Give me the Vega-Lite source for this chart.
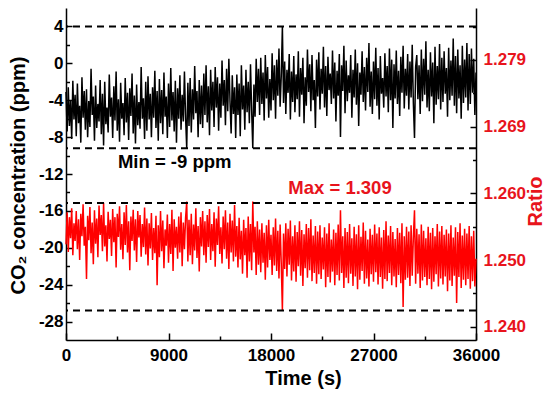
{
"$schema": "https://vega.github.io/schema/vega-lite/v6.json",
"autosize": {"type": "none"},
"width": 410, "height": 332,
"padding": {"left": 66, "top": 8, "right": 74, "bottom": 58},
"background": "white",
"config": {
  "view": {"stroke": null},
  "axis": {"labelFont": "Liberation Sans", "labelFontWeight": "bold", "labelFontSize": 17, "labelColor": "black",
           "titleFont": "Liberation Sans", "titleFontWeight": "bold", "titleFontSize": 20, "titleColor": "black",
           "domainColor": "black", "domainWidth": 1.5, "tickColor": "black", "tickWidth": 1.5, "grid": false,
           "labelFlush": false, "labelOverlap": false}
},
"data": {"values": [
{"t":0,"c":-3.1,"r":1.2521},{"t":100,"c":-7.4,"r":1.2568},{"t":200,"c":-2.6,"r":1.2510},{"t":300,"c":-6.8,"r":1.2561},{"t":400,"c":-4.0,"r":1.2530},{"t":500,"c":-8.2,"r":1.2574},{"t":600,"c":-1.9,"r":1.2505},{"t":700,"c":-6.1,"r":1.2552},{"t":800,"c":-3.4,"r":1.2526},{"t":900,"c":-7.9,"r":1.2570},
{"t":1000,"c":-2.2,"r":1.2514},{"t":1100,"c":-6.5,"r":1.2558},{"t":1200,"c":-4.6,"r":1.2498},{"t":1300,"c":-8.6,"r":1.2566},{"t":1400,"c":-1.5,"r":1.2533},{"t":1500,"c":-5.9,"r":1.2580},{"t":1600,"c":-3.0,"r":1.2519},{"t":1700,"c":-7.2,"r":1.2547},{"t":1800,"c":-2.8,"r":1.2470},{"t":1900,"c":-8.0,"r":1.2563},
{"t":2000,"c":-4.1,"r":1.2527},{"t":2100,"c":-6.9,"r":1.2576},{"t":2200,"c":-0.6,"r":1.2508},{"t":2300,"c":-5.6,"r":1.2553},{"t":2400,"c":-3.6,"r":1.2492},{"t":2500,"c":-8.4,"r":1.2571},{"t":2600,"c":-2.4,"r":1.2522},{"t":2700,"c":-7.0,"r":1.2559},{"t":2800,"c":-4.4,"r":1.2502},{"t":2900,"c":-6.3,"r":1.2578},
{"t":3000,"c":-1.8,"r":1.2535},{"t":3100,"c":-7.7,"r":1.2564},{"t":3200,"c":-3.3,"r":1.2511},{"t":3300,"c":-8.9,"r":1.2582},{"t":3400,"c":-2.0,"r":1.2518},{"t":3500,"c":-6.6,"r":1.2549},{"t":3600,"c":-4.8,"r":1.2496},{"t":3700,"c":-7.5,"r":1.2569},{"t":3800,"c":-1.2,"r":1.2529},{"t":3900,"c":-5.8,"r":1.2557},
{"t":4000,"c":-3.7,"r":1.2504},{"t":4100,"c":-8.1,"r":1.2573},{"t":4200,"c":-2.5,"r":1.2524},{"t":4300,"c":-6.2,"r":1.2561},{"t":4400,"c":-0.9,"r":1.2487},{"t":4500,"c":-7.3,"r":1.2566},{"t":4600,"c":-3.9,"r":1.2532},{"t":4700,"c":-8.5,"r":1.2577},{"t":4800,"c":-2.1,"r":1.2513},{"t":4900,"c":-6.0,"r":1.2551},
{"t":5000,"c":-4.3,"r":1.2499},{"t":5100,"c":-7.8,"r":1.2568},{"t":5200,"c":-1.6,"r":1.2520},{"t":5300,"c":-6.4,"r":1.2579},{"t":5400,"c":-3.2,"r":1.2509},{"t":5500,"c":-8.3,"r":1.2555},{"t":5600,"c":-2.7,"r":1.2483},{"t":5700,"c":-5.7,"r":1.2562},{"t":5800,"c":-1.1,"r":1.2526},{"t":5900,"c":-7.6,"r":1.2572},
{"t":6000,"c":-3.5,"r":1.2512},{"t":6100,"c":-8.7,"r":1.2558},{"t":6200,"c":-2.3,"r":1.2495},{"t":6300,"c":-6.7,"r":1.2570},{"t":6400,"c":-4.2,"r":1.2531},{"t":6500,"c":-7.1,"r":1.2564},{"t":6600,"c":-0.4,"r":1.2503},{"t":6700,"c":-6.0,"r":1.2551},{"t":6800,"c":-3.8,"r":1.2517},{"t":6900,"c":-8.2,"r":1.2575},
{"t":7000,"c":-2.0,"r":1.2506},{"t":7100,"c":-7.3,"r":1.2559},{"t":7200,"c":-1.4,"r":1.2490},{"t":7300,"c":-6.1,"r":1.2552},{"t":7400,"c":-3.3,"r":1.2515},{"t":7500,"c":-8.0,"r":1.2567},{"t":7600,"c":-2.6,"r":1.2498},{"t":7700,"c":-5.9,"r":1.2545},{"t":7800,"c":-0.8,"r":1.2508},{"t":7900,"c":-7.0,"r":1.2563},
{"t":8000,"c":-3.0,"r":1.2461},{"t":8100,"c":-8.4,"r":1.2549},{"t":8200,"c":-1.7,"r":1.2502},{"t":8300,"c":-6.5,"r":1.2570},{"t":8400,"c":-2.9,"r":1.2511},{"t":8500,"c":-7.7,"r":1.2556},{"t":8600,"c":-1.0,"r":1.2486},{"t":8700,"c":-5.8,"r":1.2543},{"t":8800,"c":-3.6,"r":1.2519},{"t":8900,"c":-8.1,"r":1.2565},
{"t":9000,"c":-2.2,"r":1.2494},{"t":9100,"c":-6.9,"r":1.2551},{"t":9200,"c":-0.5,"r":1.2507},{"t":9300,"c":-6.2,"r":1.2572},{"t":9400,"c":-3.1,"r":1.2482},{"t":9500,"c":-7.4,"r":1.2558},{"t":9600,"c":-1.9,"r":1.2516},{"t":9700,"c":-8.6,"r":1.2547},{"t":9800,"c":-2.7,"r":1.2500},{"t":9900,"c":-6.0,"r":1.2562},
{"t":10000,"c":-1.3,"r":1.2509},{"t":10100,"c":-7.2,"r":1.2568},{"t":10200,"c":-3.4,"r":1.2489},{"t":10300,"c":-6.3,"r":1.2553},{"t":10400,"c":-0.9,"r":1.2514},{"t":10500,"c":-5.9,"r":1.2560},{"t":10600,"c":-9.2,"r":1.2584},{"t":10700,"c":-2.1,"r":1.2496},{"t":10800,"c":-6.8,"r":1.2557},{"t":10900,"c":-1.6,"r":1.2505},
{"t":11000,"c":-7.5,"r":1.2566},{"t":11100,"c":-2.8,"r":1.2492},{"t":11200,"c":-6.1,"r":1.2550},{"t":11300,"c":-0.3,"r":1.2512},{"t":11400,"c":-5.4,"r":1.2574},{"t":11500,"c":-3.0,"r":1.2501},{"t":11600,"c":-8.0,"r":1.2548},{"t":11700,"c":-1.8,"r":1.2481},{"t":11800,"c":-6.6,"r":1.2561},{"t":11900,"c":-2.4,"r":1.2518},
{"t":12000,"c":-7.0,"r":1.2570},{"t":12100,"c":-1.1,"r":1.2505},{"t":12200,"c":-5.6,"r":1.2555},{"t":12300,"c":-0.2,"r":1.2494},{"t":12400,"c":-6.4,"r":1.2564},{"t":12500,"c":-2.5,"r":1.2517},{"t":12600,"c":-7.8,"r":1.2573},{"t":12700,"c":-0.7,"r":1.2498},{"t":12800,"c":-5.1,"r":1.2551},{"t":12900,"c":-2.0,"r":1.2511},
{"t":13000,"c":-6.9,"r":1.2568},{"t":13100,"c":-0.4,"r":1.2488},{"t":13200,"c":-4.8,"r":1.2559},{"t":13300,"c":-1.5,"r":1.2520},{"t":13400,"c":-7.3,"r":1.2577},{"t":13500,"c":-2.2,"r":1.2507},{"t":13600,"c":-5.9,"r":1.2546},{"t":13700,"c":0.3,"r":1.2493},{"t":13800,"c":-4.6,"r":1.2562},{"t":13900,"c":-1.8,"r":1.2514},
{"t":14000,"c":-6.7,"r":1.2571},{"t":14100,"c":-0.6,"r":1.2500},{"t":14200,"c":-5.2,"r":1.2553},{"t":14300,"c":0.5,"r":1.2485},{"t":14400,"c":-4.1,"r":1.2566},{"t":14500,"c":-7.6,"r":1.2509},{"t":14600,"c":-1.3,"r":1.2556},{"t":14700,"c":-5.5,"r":1.2496},{"t":14800,"c":-2.6,"r":1.2579},{"t":14900,"c":-8.1,"r":1.2503},
{"t":15000,"c":-1.2,"r":1.2548},{"t":15100,"c":-5.6,"r":1.2487},{"t":15200,"c":-2.2,"r":1.2560},{"t":15300,"c":-7.9,"r":1.2499},{"t":15400,"c":-0.2,"r":1.2541},{"t":15500,"c":-5.0,"r":1.2478},{"t":15600,"c":-2.4,"r":1.2557},{"t":15700,"c":-7.2,"r":1.2505},{"t":15800,"c":-0.7,"r":1.2545},{"t":15900,"c":-5.3,"r":1.2472},
{"t":16000,"c":-2.0,"r":1.2562},{"t":16100,"c":-6.5,"r":1.2496},{"t":16200,"c":-0.1,"r":1.2551},{"t":16300,"c":-5.1,"r":1.2483},{"t":16400,"c":-9.2,"r":1.2584},{"t":16500,"c":-2.3,"r":1.2509},{"t":16600,"c":-5.8,"r":1.2547},{"t":16700,"c":0.5,"r":1.2476},{"t":16800,"c":-4.2,"r":1.2555},{"t":16900,"c":-0.6,"r":1.2491},
{"t":17000,"c":-5.6,"r":1.2543},{"t":17100,"c":0.6,"r":1.2480},{"t":17200,"c":-4.4,"r":1.2552},{"t":17300,"c":-1.0,"r":1.2494},{"t":17400,"c":-6.2,"r":1.2538},{"t":17500,"c":0.9,"r":1.2469},{"t":17600,"c":-3.8,"r":1.2549},{"t":17700,"c":-0.4,"r":1.2487},{"t":17800,"c":-5.9,"r":1.2557},{"t":17900,"c":-1.7,"r":1.2498},
{"t":18000,"c":-5.1,"r":1.2535},{"t":18100,"c":1.1,"r":1.2476},{"t":18200,"c":-4.0,"r":1.2546},{"t":18300,"c":-0.2,"r":1.2490},{"t":18400,"c":-6.0,"r":1.2559},{"t":18500,"c":0.4,"r":1.2482},{"t":18600,"c":-3.5,"r":1.2541},{"t":18700,"c":1.6,"r":1.2471},{"t":18800,"c":-4.7,"r":1.2550},{"t":18900,"c":-1.4,"r":1.2493},
{"t":19000,"c":4.0,"r":1.2424},{"t":19100,"c":-4.3,"r":1.2537},{"t":19200,"c":0.2,"r":1.2485},{"t":19300,"c":-5.5,"r":1.2552},{"t":19400,"c":-0.7,"r":1.2474},{"t":19500,"c":-3.2,"r":1.2544},{"t":19600,"c":1.0,"r":1.2491},{"t":19700,"c":-6.1,"r":1.2556},{"t":19800,"c":-0.9,"r":1.2468},{"t":19900,"c":-4.2,"r":1.2533},
{"t":20000,"c":0.8,"r":1.2481},{"t":20100,"c":-5.3,"r":1.2549},{"t":20200,"c":-1.2,"r":1.2466},{"t":20300,"c":-3.9,"r":1.2539},{"t":20400,"c":1.3,"r":1.2489},{"t":20500,"c":-5.8,"r":1.2555},{"t":20600,"c":-0.5,"r":1.2475},{"t":20700,"c":-3.4,"r":1.2542},{"t":20800,"c":0.6,"r":1.2460},{"t":20900,"c":-6.5,"r":1.2536},
{"t":21000,"c":-1.5,"r":1.2486},{"t":21100,"c":-4.6,"r":1.2551},{"t":21200,"c":1.5,"r":1.2472},{"t":21300,"c":-3.1,"r":1.2545},{"t":21400,"c":-0.1,"r":1.2483},{"t":21500,"c":-5.2,"r":1.2558},{"t":21600,"c":0.9,"r":1.2467},{"t":21700,"c":-4.0,"r":1.2534},{"t":21800,"c":-1.8,"r":1.2479},{"t":21900,"c":-7.0,"r":1.2548},
{"t":22000,"c":0.4,"r":1.2463},{"t":22100,"c":-3.6,"r":1.2540},{"t":22200,"c":1.2,"r":1.2477},{"t":22300,"c":-5.0,"r":1.2549},{"t":22400,"c":-0.6,"r":1.2470},{"t":22500,"c":-3.3,"r":1.2531},{"t":22600,"c":1.8,"r":1.2484},{"t":22700,"c":-4.8,"r":1.2546},{"t":22800,"c":-0.3,"r":1.2458},{"t":22900,"c":-5.7,"r":1.2537},
{"t":23000,"c":0.7,"r":1.2473},{"t":23100,"c":-2.9,"r":1.2552},{"t":23200,"c":-1.1,"r":1.2465},{"t":23300,"c":-4.4,"r":1.2528},{"t":23400,"c":1.4,"r":1.2481},{"t":23500,"c":-3.8,"r":1.2543},{"t":23600,"c":0.1,"r":1.2461},{"t":23700,"c":-6.3,"r":1.2538},{"t":23800,"c":-0.8,"r":1.2476},{"t":23900,"c":-3.5,"r":1.2550},
{"t":24000,"c":1.0,"r":1.2468},{"t":24100,"c":-8.0,"r":1.2571},{"t":24200,"c":-0.2,"r":1.2479},{"t":24300,"c":-3.0,"r":1.2533},{"t":24400,"c":1.9,"r":1.2457},{"t":24500,"c":-5.4,"r":1.2545},{"t":24600,"c":0.3,"r":1.2472},{"t":24700,"c":-4.1,"r":1.2539},{"t":24800,"c":-1.3,"r":1.2464},{"t":24900,"c":-3.2,"r":1.2551},
{"t":25000,"c":0.9,"r":1.2478},{"t":25100,"c":-5.9,"r":1.2530},{"t":25200,"c":-0.7,"r":1.2460},{"t":25300,"c":-3.7,"r":1.2547},{"t":25400,"c":1.5,"r":1.2474},{"t":25500,"c":-4.5,"r":1.2536},{"t":25600,"c":0.0,"r":1.2455},{"t":25700,"c":-6.8,"r":1.2549},{"t":25800,"c":-1.0,"r":1.2469},{"t":25900,"c":-3.4,"r":1.2532},
{"t":26000,"c":1.3,"r":1.2482},{"t":26100,"c":-4.2,"r":1.2553},{"t":26200,"c":-0.4,"r":1.2463},{"t":26300,"c":-5.1,"r":1.2541},{"t":26400,"c":0.6,"r":1.2471},{"t":26500,"c":-3.1,"r":1.2528},{"t":26600,"c":2.2,"r":1.2459},{"t":26700,"c":-4.7,"r":1.2544},{"t":26800,"c":-0.9,"r":1.2477},{"t":26900,"c":-5.5,"r":1.2535},
{"t":27000,"c":0.2,"r":1.2466},{"t":27100,"c":-3.9,"r":1.2550},{"t":27200,"c":1.7,"r":1.2480},{"t":27300,"c":-4.6,"r":1.2537},{"t":27400,"c":-0.5,"r":1.2462},{"t":27500,"c":-6.1,"r":1.2546},{"t":27600,"c":0.8,"r":1.2473},{"t":27700,"c":-3.3,"r":1.2531},{"t":27800,"c":-1.6,"r":1.2456},{"t":27900,"c":-4.8,"r":1.2542},
{"t":28000,"c":1.1,"r":1.2470},{"t":28100,"c":-3.6,"r":1.2555},{"t":28200,"c":-0.3,"r":1.2467},{"t":28300,"c":-5.3,"r":1.2534},{"t":28400,"c":1.6,"r":1.2479},{"t":28500,"c":-4.0,"r":1.2548},{"t":28600,"c":0.4,"r":1.2461},{"t":28700,"c":-7.0,"r":1.2539},{"t":28800,"c":-0.1,"r":1.2474},{"t":28900,"c":-3.8,"r":1.2529},
{"t":29000,"c":1.4,"r":1.2458},{"t":29100,"c":-4.4,"r":1.2545},{"t":29200,"c":-0.8,"r":1.2476},{"t":29300,"c":-5.7,"r":1.2538},{"t":29400,"c":0.7,"r":1.2464},{"t":29500,"c":-3.2,"r":1.2552},{"t":29600,"c":1.9,"r":1.2429},{"t":29700,"c":-4.9,"r":1.2533},{"t":29800,"c":-0.6,"r":1.2469},{"t":29900,"c":-3.5,"r":1.2547},
{"t":30000,"c":1.0,"r":1.2472},{"t":30100,"c":-5.0,"r":1.2540},{"t":30200,"c":0.2,"r":1.2460},{"t":30300,"c":-3.7,"r":1.2549},{"t":30400,"c":2.0,"r":1.2475},{"t":30500,"c":-4.3,"r":1.2532},{"t":30600,"c":-8.1,"r":1.2571},{"t":30700,"c":-0.4,"r":1.2463},{"t":30800,"c":0.9,"r":1.2544},{"t":30900,"c":-3.9,"r":1.2478},
{"t":31000,"c":-0.2,"r":1.2536},{"t":31100,"c":-5.5,"r":1.2457},{"t":31200,"c":1.5,"r":1.2550},{"t":31300,"c":-4.1,"r":1.2468},{"t":31400,"c":0.5,"r":1.2541},{"t":31500,"c":-3.4,"r":1.2473},{"t":31600,"c":2.4,"r":1.2530},{"t":31700,"c":-4.8,"r":1.2461},{"t":31800,"c":-0.7,"r":1.2547},{"t":31900,"c":-5.2,"r":1.2470},
{"t":32000,"c":1.2,"r":1.2538},{"t":32100,"c":-3.6,"r":1.2455},{"t":32200,"c":0.1,"r":1.2545},{"t":32300,"c":-6.5,"r":1.2466},{"t":32400,"c":1.8,"r":1.2533},{"t":32500,"c":-4.5,"r":1.2477},{"t":32600,"c":-0.3,"r":1.2551},{"t":32700,"c":-3.9,"r":1.2459},{"t":32800,"c":2.1,"r":1.2540},{"t":32900,"c":-5.0,"r":1.2471},
{"t":33000,"c":0.6,"r":1.2548},{"t":33100,"c":-4.2,"r":1.2462},{"t":33200,"c":1.3,"r":1.2535},{"t":33300,"c":-3.3,"r":1.2474},{"t":33400,"c":-0.5,"r":1.2543},{"t":33500,"c":-5.8,"r":1.2452},{"t":33600,"c":1.7,"r":1.2537},{"t":33700,"c":-4.0,"r":1.2468},{"t":33800,"c":0.3,"r":1.2549},{"t":33900,"c":-3.5,"r":1.2460},
{"t":34000,"c":2.7,"r":1.2531},{"t":34100,"c":-4.6,"r":1.2475},{"t":34200,"c":0.8,"r":1.2546},{"t":34300,"c":-5.4,"r":1.2435},{"t":34400,"c":1.5,"r":1.2539},{"t":34500,"c":-3.8,"r":1.2473},{"t":34600,"c":-0.2,"r":1.2552},{"t":34700,"c":-6.0,"r":1.2457},{"t":34800,"c":1.9,"r":1.2534},{"t":34900,"c":-4.3,"r":1.2469},
{"t":35000,"c":0.4,"r":1.2544},{"t":35100,"c":-3.7,"r":1.2461},{"t":35200,"c":2.2,"r":1.2537},{"t":35300,"c":-5.1,"r":1.2470},{"t":35400,"c":1.0,"r":1.2548},{"t":35500,"c":-4.4,"r":1.2456},{"t":35600,"c":1.6,"r":1.2533},{"t":35700,"c":-3.2,"r":1.2467},{"t":35800,"c":0.5,"r":1.2541},{"t":35900,"c":-5.6,"r":1.2459},{"t":36000,"c":-1.0,"r":1.2500}
]},
"layer": [
  {
    "mark": {"type": "line", "color": "#ff0000", "strokeWidth": 1.5, "interpolate": "linear"},
    "encoding": {
      "x": {"field": "t", "type": "quantitative", "scale": {"domain": [0, 36000], "nice": false}, "axis": null},
      "y": {"field": "r", "type": "quantitative", "scale": {"domain": [1.23805, 1.28683], "nice": false, "zero": false},
            "axis": {"orient": "right", "values": [1.24, 1.2498, 1.2596, 1.2694, 1.2792], "format": ".3f", "title": "Ratio",
                     "labelColor": "#e8141c", "titleColor": "#e8141c", "tickSize": -6, "labelPadding": 13,
                     "titleX": 59, "titleY": 193, "titleAngle": 270, "titleBaseline": "middle", "titleAlign": "center"}}
    }
  },
  {
    "mark": {"type": "line", "color": "#000000", "strokeWidth": 1.5, "interpolate": "linear"},
    "encoding": {
      "x": {"field": "t", "type": "quantitative", "scale": {"domain": [0, 36000], "nice": false},
            "axis": {"orient": "bottom", "values": [0, 9000, 18000, 27000, 36000], "format": "d", "title": "Time (s)",
                     "tickSize": -7, "labelPadding": 14, "titleX": 237, "titleY": 38, "titleBaseline": "middle", "titleAlign": "center"}},
      "y": {"field": "c", "type": "quantitative", "scale": {"domain": [-30, 6], "nice": false, "zero": false},
            "axis": {"orient": "left", "values": [4, 0, -4, -8, -12, -16, -20, -24, -28], "labelExpr": "'' + datum.value",
                     "title": "CO₂ concentration (ppm)", "tickSize": -6, "labelPadding": 9,
                     "titleX": -48, "titleY": 167, "titleAngle": 270, "titleBaseline": "middle", "titleAlign": "center"}}
    }
  },
  {
    "data": {"values": [{"v": 4}, {"v": -9.2}, {"v": -15.15}, {"v": -26.8}]},
    "mark": {"type": "rule", "color": "black", "strokeWidth": 2, "strokeDash": [7, 5]},
    "encoding": {
      "y": {"field": "v", "type": "quantitative", "scale": {"domain": [-30, 6], "nice": false, "zero": false},
            "axis": {"orient": "left", "values": [2, -2, -6, -10, -14, -18, -22, -26], "labels": false, "domain": false, "tickSize": -3.5, "title": null}}
    }
  },
  {
    "data": {"values": [{"t": 9545, "v": -10.75, "label": "Min = -9 ppm"}]},
    "mark": {"type": "text", "font": "Liberation Sans", "fontWeight": "bold", "fontSize": 18.5, "color": "black", "align": "center", "baseline": "middle"},
    "encoding": {
      "x": {"field": "t", "type": "quantitative", "scale": {"domain": [0, 36000], "nice": false},
            "axis": {"orient": "bottom", "values": [4500, 13500, 22500, 31500], "labels": false, "domain": false, "tickSize": -4, "title": null}},
      "y": {"field": "v", "type": "quantitative", "scale": {"domain": [-30, 6], "nice": false, "zero": false}, "axis": null},
      "text": {"field": "label"}
    }
  },
  {
    "data": {"values": [{"t": 24060, "v": 1.26038, "label": "Max = 1.309"}]},
    "mark": {"type": "text", "font": "Liberation Sans", "fontWeight": "bold", "fontSize": 18.5, "color": "#e8141c", "align": "center", "baseline": "middle"},
    "encoding": {
      "x": {"field": "t", "type": "quantitative", "scale": {"domain": [0, 36000], "nice": false}, "axis": null},
      "y": {"field": "v", "type": "quantitative", "scale": {"domain": [1.23805, 1.28683], "nice": false, "zero": false},
            "axis": {"orient": "right", "values": [1.2449, 1.2547, 1.2645, 1.2743, 1.2841], "labels": false, "domain": false, "tickSize": -3.5, "title": null}},
      "text": {"field": "label"}
    }
  }
],
"resolve": {"scale": {"x": "independent", "y": "independent"}}
}
